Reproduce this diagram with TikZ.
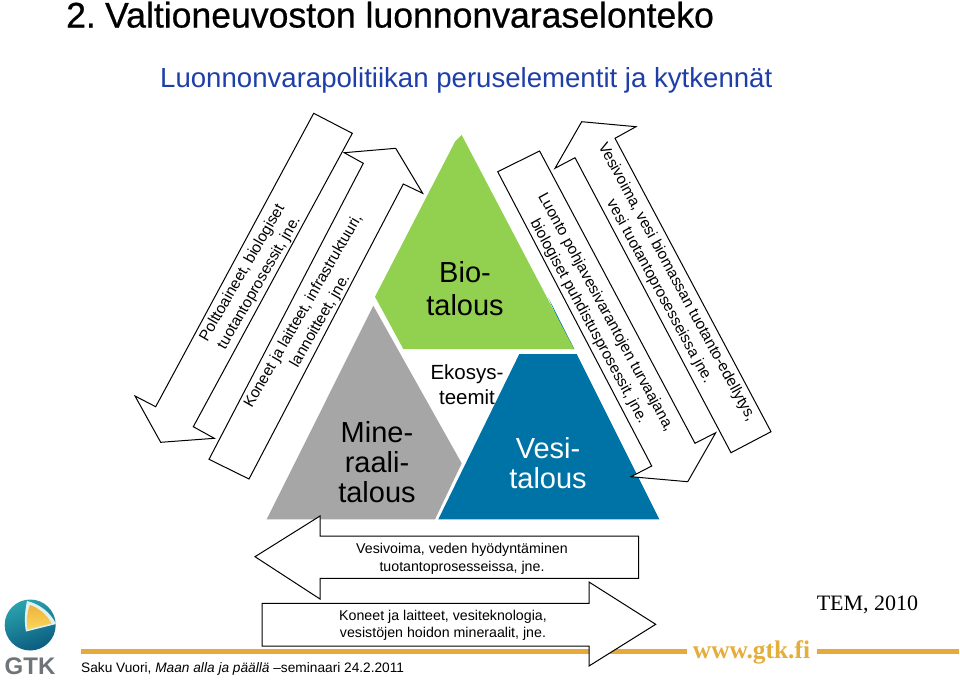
\documentclass[tikz,border=0pt]{standalone}
\usepackage{fontspec}
\setmainfont{Liberation Sans}
\newfontfamily\serifface{Liberation Serif}
\newfontfamily\heavyface[FakeBold=0.6]{Liberation Sans}
\definecolor{bioG}{HTML}{92D050}
\definecolor{minG}{HTML}{A6A6A6}
\definecolor{vesB}{HTML}{0073A6}
\definecolor{titleB}{HTML}{1F3FA8}
\definecolor{barO}{HTML}{E8A93B}
\definecolor{webO}{HTML}{E5AE3C}
\definecolor{gtkG}{HTML}{6E7478}
\definecolor{globeA}{HTML}{2AA3AE}
\definecolor{globeB}{HTML}{0B5C80}
\definecolor{coreA}{HTML}{F9D65C}
\definecolor{coreB}{HTML}{F0B23C}
\tikzset{
  flow/.style={draw=black,fill=white,line width=1pt,line join=miter},
  flowtext/.style={align=center,font=\fontsize{14.2}{17.5}\selectfont,inner sep=0pt},
  slanttext/.style={align=center,font=\fontsize{15.4}{19.5}\selectfont,inner sep=0pt},
}
\begin{document}
\begin{tikzpicture}[x=1pt,y=-1pt]
\useasboundingbox (0,0) rectangle (960,681);
\fill[white] (0,0) rectangle (960,681);
% titles
\node[anchor=base west,inner sep=0pt,font=\heavyface\fontsize{35.6}{40}\selectfont] (title) at (66,27.5) {2.\hspace{-4pt} Valtioneuvoston luonnonvaraselonteko};
\node[anchor=base west,inner sep=0pt,text=titleB,font=\fontsize{27.6}{32}\selectfont] (sub) at (160,87) {Luonnonvarapolitiikan peruselementit ja kytkennät};
% triangles
\fill[minG] (373.3,305.7) -- (266.7,519.3) -- (435,519.3) -- (461.7,463.3) -- cycle;
\fill[vesB] (548.3,297.7) -- (574.3,349) -- (571,349) -- cycle;
\fill[bioG] (455,141.7) -- (461.7,135) -- (574,349) -- (403.3,349) -- (375,296.7) -- cycle;
\fill[vesB] (519.3,354) -- (576.7,354) -- (659.3,519.3) -- (438.3,519.3) -- cycle;
\node[align=center,inner sep=0pt,font=\fontsize{29}{33}\selectfont] (bio) at (465,289) {Bio-\\talous};
\node[align=center,inner sep=0pt,font=\fontsize{29}{30}\selectfont] (min) at (377,462) {Mine-\\raali-\\talous};
\node[align=center,inner sep=0pt,text=white,font=\fontsize{29}{29.5}\selectfont] (ves) at (548,463) {Vesi-\\talous};
\node[align=center,inner sep=0pt,font=\fontsize{20.5}{25}\selectfont] (eko) at (467,385) {Ekosys-\\teemit};
% left arrows
\draw[flow] (313.7,113.3) -- (352.3,133.3) -- (193.3,426.7) -- (214.3,438.3) -- (160.7,442.3) -- (135,396) -- (155.7,406.7) -- cycle;
\draw[flow] (209,459.3) -- (249,479) -- (403.3,184) -- (422.7,193.3) -- (395.7,148.3) -- (344.2,152.7) -- (363.3,163.3) -- cycle;
\node[slanttext,rotate=60] (t1) at (251,278) {Polttoaineet, biologiset\\tuotantoprosessit, jne.};
\node[slanttext,rotate=60] (t2) at (312,316) {Koneet ja laitteet, infrastruktuuri,\\lannoitteet, jne.};
% right arrows
\draw[flow] (497.7,171.7) -- (539.6,151) -- (695,443.3) -- (715.7,432.7) -- (687.7,481.7) -- (631,476.7) -- (651.7,466) -- cycle;
\draw[flow] (731,452.7) -- (771,431.7) -- (615,138.3) -- (636,126.7) -- (581.7,121.7) -- (555,168.3) -- (575,157.7) -- cycle;
\node[slanttext,rotate=-61.5] (t3) at (597,317) {Luonto pohjavesivarantojen turvaajana,\\biologiset puhdistusprosessit, jne.};
\node[slanttext,rotate=-61.5] (t4) at (668,287) {Vesivoima, vesi biomassan tuotanto-edellytys,\\vesi tuotantoprosesseissa jne.};
% footer bar
\fill[barO] (81,649.4) rectangle (687,654);
\fill[barO] (817,649.4) rectangle (959,654);
% bottom arrows
\draw[flow] (255,556.7) -- (320,516) -- (320,536) -- (638.7,536) -- (638.7,578.3) -- (320,578.3) -- (320,599) -- cycle;
\draw[flow] (262,603.3) -- (589,603.3) -- (589,582) -- (655.7,624.3) -- (589,666) -- (589,646) -- (262,646) -- cycle;
\node[flowtext] (t5) at (462,559) {Vesivoima, veden hyödyntäminen\\tuotantoprosesseissa, jne.};
\node[flowtext] (t6) at (443,625.5) {Koneet ja laitteet, vesiteknologia,\\vesistöjen hoidon mineraalit, jne.};
% footer text
\node[anchor=base west,inner sep=0pt,font=\fontsize{13.7}{16}\selectfont] (saku) at (81,672) {Saku Vuori, \textit{Maan alla ja päällä} –seminaari 24.2.2011};
\node[anchor=base,inner sep=0pt,text=webO,font=\serifface\bfseries\fontsize{25.4}{28}\selectfont] (web) at (751.5,658) {www.gtk.fi};
\node[anchor=base,inner sep=0pt,font=\serifface\fontsize{22}{25}\selectfont] (tem) at (867.5,610.5) {TEM, 2010};
% logo
\shade[top color=globeA,bottom color=globeB,shading angle=20] (30.2,625) circle (25.5);
\fill[white!85!globeA] (27,601) .. controls (40,604) and (51,613) .. (56,624) -- (26,631.5) .. controls (24,622) and (25,610) .. cycle;
\shade[top color=coreB,bottom color=coreA] (30,605) .. controls (39,608) and (47,615) .. (51.7,623.5) -- (27.5,629.5) .. controls (26,622) and (27,612) .. cycle;
\node[anchor=base,inner sep=0pt,text=gtkG,font=\bfseries\fontsize{24}{26}\selectfont] (gtk) at (30,674) {GTK};
\end{tikzpicture}
\end{document}
